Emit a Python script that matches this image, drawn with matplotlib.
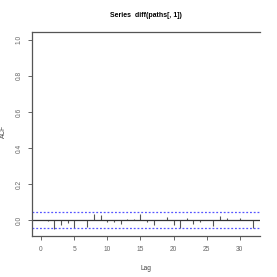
import numpy as np
import matplotlib
matplotlib.use("Agg")
import matplotlib.pyplot as plt

# ACF of diff(paths[, 1]) (lag 0 not drawn)
lags = list(range(1, 33))
acf = [-0.005, -0.050, -0.030, -0.017, -0.046, 0.000, -0.039, 0.031,
       0.025, -0.009, -0.013, -0.024, 0.007, 0.004, 0.034, -0.009,
       -0.028, 0.000, 0.019, -0.028, -0.045, 0.012, -0.024, -0.013,
       0.000, -0.036, 0.020, 0.011, 0.000, 0.013, 0.000, -0.047]
ci = 0.046
x_ticks = [0, 5, 10, 15, 20, 25, 30]
y_ticks = [0.0, 0.2, 0.4, 0.6, 0.8, 1.0]

plt.rcParams['font.family'] = ['Liberation Sans', 'DejaVu Sans']

fig = plt.figure(figsize=(2.77, 2.77), dpi=100)
ax = fig.add_axes([0.1155, 0.148, 0.823, 0.7365])

ax.vlines(lags, 0, acf, color='#555555', linewidth=0.8)
ax.axhline(0, color='#333333', linewidth=0.9)
# dotted blue confidence band
ax.axhline(ci, color='#5555ff', linewidth=0.9, linestyle=(0, (1.5, 1.5)))
ax.axhline(-ci, color='#5555ff', linewidth=0.9, linestyle=(0, (1.5, 1.5)))

ax.set_xlim(-1.36, 33.05)
ax.set_ylim(-0.089, 1.044)
ax.set_xticks(x_ticks)
ax.set_yticks(y_ticks)
ax.set_xticklabels([str(v) for v in x_ticks])
ax.set_yticklabels(['%.1f' % v for v in y_ticks], rotation=90, va='center')
ax.tick_params(axis='both', labelsize=4.8, colors='#666666', length=3,
               width=0.7, pad=4)

for side in ['top', 'left', 'bottom']:
    ax.spines[side].set_color('#555555')
    ax.spines[side].set_linewidth(0.9)
ax.spines['right'].set_visible(False)

ax.set_xlabel('Lag', fontsize=4.8, color='#444444', labelpad=9)
ax.set_ylabel('ACF', fontsize=4.8, color='#444444')
ax.yaxis.set_label_coords(-0.11, 0.515)
fig.text(0.527, 0.945, 'Series  diff(paths[, 1])', ha='center', va='center',
         fontsize=5, fontweight='bold')

fig.savefig('out.png', dpi=100)
